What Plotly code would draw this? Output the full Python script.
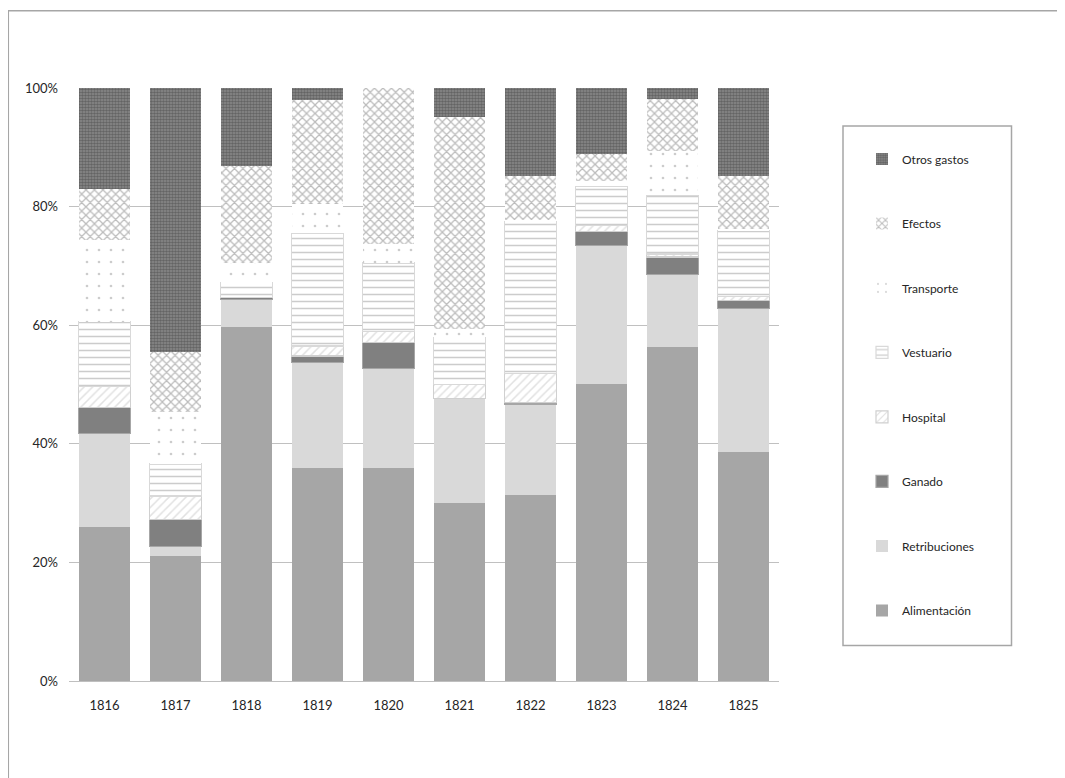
import plotly.graph_objects as go

years = ["1816", "1817", "1818", "1819", "1820", "1821", "1822", "1823", "1824", "1825"]

alimentacion  = [25.9, 21.0, 59.7, 35.9, 35.9, 30.1, 31.4, 50.1, 56.3, 38.7]
retribuciones = [15.9,  1.7,  4.6, 17.8, 16.8, 17.6, 15.3, 23.4, 12.2, 24.1]
ganado        = [ 4.3,  4.5,  0.4,  1.1,  4.4,  0.0,  0.3,  2.3,  3.0,  1.4]
hospital      = [ 3.6,  4.0,  0.0,  1.7,  1.8,  2.3,  4.9,  1.0,  0.5,  0.7]
vestuario     = [10.9,  5.4,  2.5, 19.0, 11.6,  7.9, 25.6,  6.6,  9.9, 11.1]
transporte    = [13.7,  8.8,  3.3,  4.9,  3.2,  1.5,  0.2,  1.0,  7.5,  0.3]
efectos       = [ 8.6, 10.1, 16.3, 17.6, 26.3, 35.7,  7.5,  4.4,  8.7,  8.8]
otros         = [17.1, 44.5, 13.2,  2.0,  0.0,  4.9, 14.8, 11.2,  1.9, 14.9]

y_tick_vals = [0, 20, 40, 60, 80, 100]
y_tick_text = ["0%", "20%", "40%", "60%", "80%", "100%"]

FONT = "Lato"
TXT = "#262626"

# page offset (browser body margin)
OFF = 8
W, H = 1065, 778
L, R, T, B = 69 - OFF, 779 - OFF, 87.5 - OFF, 681.5 - OFF


def px(xp):
    return (xp - OFF - L) / (R - L)


def py(yp):
    return (B - (yp - OFF)) / (B - T)


series = [
    ("Alimentación", alimentacion, dict(color="#a6a6a6", line=dict(width=0))),
    ("Retribuciones", retribuciones, dict(color="#d9d9d9", line=dict(width=0))),
    ("Ganado", ganado, dict(color="#808080", line=dict(width=1.2, color="#a6a6a6"))),
    ("Hospital", hospital, dict(color="#ffffff", line=dict(width=1.2, color="#d0d0d0"),
                                pattern=dict(shape="/", fgcolor="#c4c4c4", bgcolor="#ffffff",
                                             size=6, solidity=0.25))),
    ("Vestuario", vestuario, dict(color="#ffffff", line=dict(width=1.2, color="#d9d9d9"),
                                  pattern=dict(shape="-", fgcolor="#999999", bgcolor="#ffffff",
                                               size=7, solidity=0.22))),
    ("Transporte", transporte, dict(color="#ffffff", line=dict(width=0),
                                    pattern=dict(shape=".", fgcolor="#9a9a9a", bgcolor="#ffffff",
                                                 size=12, solidity=0.04))),
    ("Efectos", efectos, dict(color="#ffffff", line=dict(width=0),
                              pattern=dict(shape="x", fgcolor="#7a7a7a", bgcolor="#ffffff",
                                           size=6, solidity=0.38))),
    ("Otros gastos", otros, dict(color="#666666", line=dict(width=0),
                                 pattern=dict(shape=".", fgcolor="#3c3c3c", bgcolor="#8c8c8c",
                                              size=3, solidity=0.6))),
]

fig = go.Figure()
n = len(series)
for i, (name, vals, mk) in enumerate(series):
    fig.add_trace(go.Bar(x=years, y=vals, name=name, marker=mk,
                         legendgroup=name, legendrank=n - i))

fig.update_layout(
    width=W, height=H,
    margin=dict(l=L, r=W - R, t=T, b=H - B, pad=0),
    paper_bgcolor="white", plot_bgcolor="white",
    barmode="stack", bargap=0.27,
    font=dict(family=FONT, size=13, color=TXT),
    xaxis=dict(showgrid=False, showline=True, linecolor="#bfbfbf", linewidth=1.3,
               ticks="", ticklabelstandoff=12, tickfont=dict(size=13, color=TXT)),
    yaxis=dict(range=[0, 100], tickmode="array", tickvals=y_tick_vals, ticktext=y_tick_text,
               showgrid=True, gridcolor="#c0c0c0", gridwidth=1.3, zeroline=False,
               showline=False, ticks="", ticklabelstandoff=10,
               tickfont=dict(size=13, color=TXT)),
    legend=dict(traceorder="grouped", tracegroupgap=45.5,
                x=px(862), xanchor="left", y=py(144), yanchor="top",
                bgcolor="rgba(0,0,0,0)", borderwidth=0,
                font=dict(family=FONT, size=12, color=TXT), itemwidth=30),
    shapes=[
        dict(type="rect", xref="paper", yref="paper",
             x0=px(843), x1=px(1011.5), y0=py(646), y1=py(125.5),
             line=dict(color="#a6a6a6", width=1.5), fillcolor="rgba(0,0,0,0)", layer="below"),
        dict(type="rect", xref="paper", yref="paper",
             x0=px(8.3), x1=px(1100), y0=py(800), y1=py(10),
             line=dict(color="#a6a6a6", width=1.5), fillcolor="rgba(0,0,0,0)", layer="below"),
    ],
)

fig.write_html("out.html")
